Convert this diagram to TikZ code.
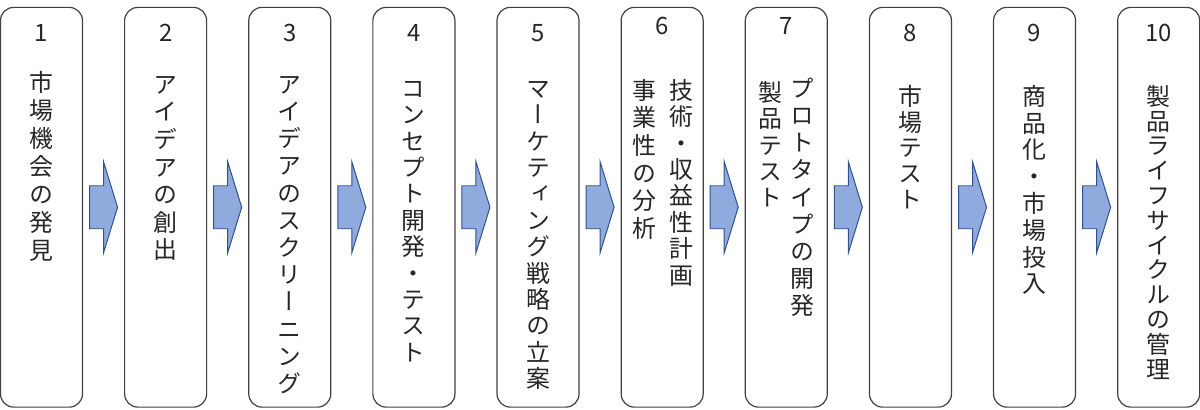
\documentclass[tikz,border=0pt]{standalone}
\usepackage{fontspec}
\usepackage{tikz}
\usetikzlibrary{positioning}

\newfontfamily\jpfont[RawFeature=+vert]{Noto Sans CJK JP}
\newfontfamily\numfont{Noto Sans CJK JP}
\definecolor{arrowfill}{HTML}{8FAADC}
\definecolor{arrowline}{HTML}{2F528F}
\definecolor{boxline}{HTML}{404040}

% vertical text: one character per line
\def\tatestop{\tatestop}
\def\tatestep#1{\ifx\tatestop#1\else\hbox to 1em{\vrule height .88em depth .12em width 0pt\hss#1\hss}\expandafter\tatestep\fi}
\newcommand\tate[2][0.67cm]{\vbox{\baselineskip=#1\lineskiplimit=-10cm\tatestep#2\tatestop}}

\begin{document}
\begin{tikzpicture}[x=0.025cm, y=-0.025cm,
    stage/.style={draw=boxline, line width=0.85pt, rounded corners=0.33cm, minimum width=2.05cm, minimum height=9.99cm, inner sep=0pt, outer sep=0pt},
    num/.style={font=\numfont\fontsize{17pt}{20pt}\selectfont, text=black!85, inner sep=0pt},
    tatetext/.style={font=\jpfont\fontsize{17pt}{20pt}\selectfont, text=black!85, inner sep=0pt, anchor=north},
    flow/.style={fill=arrowfill, draw=arrowline, line width=0.7pt, line join=miter},
    node distance=1.0525cm]
    \useasboundingbox (0,0) rectangle (1200,409);

    % the ten process boxes
    \node[stage] (s1) at (41.5,207.25) {};
    \node[stage, right=of s1] (s2) {};
    \node[stage, right=of s2] (s3) {};
    \node[stage, right=of s3] (s4) {};
    \node[stage, right=of s4] (s5) {};
    \node[stage, right=of s5] (s6) {};
    \node[stage, right=of s6] (s7) {};
    \node[stage, right=of s7] (s8) {};
    \node[stage, right=of s8] (s9) {};
    \node[stage, right=of s9] (s10) {};

    % step numbers
    \node[num] (n1) at ([yshift=-0.6375cm]s1.north) {1};
    \node[num] (n2) at ([yshift=-0.6375cm]s2.north) {2};
    \node[num] (n3) at ([yshift=-0.6375cm]s3.north) {3};
    \node[num] (n4) at ([yshift=-0.6375cm]s4.north) {4};
    \node[num] (n5) at ([yshift=-0.6375cm]s5.north) {5};
    \node[num] (n6) at ([yshift=-0.4625cm]s6.north) {6};
    \node[num] (n7) at ([yshift=-0.4625cm]s7.north) {7};
    \node[num] (n8) at ([yshift=-0.6375cm]s8.north) {8};
    \node[num] (n9) at ([yshift=-0.6375cm]s9.north) {9};
    \node[num] (n10) at ([yshift=-0.6375cm]s10.north) {10};

    % vertical titles
    \node[tatetext] (t1) at ([yshift=-1.5625cm]s1.north) {\tate[0.70cm]{市場機会の発見}};
    \node[tatetext] (t2) at ([yshift=-1.6125cm]s2.north) {\tate[0.69cm]{アイデアの創出}};
    \node[tatetext] (t3) at ([yshift=-1.6125cm]s3.north) {\tate[0.68cm]{アイデアのスクリーニング}};
    \node[tatetext] (t4) at ([yshift=-1.7125cm]s4.north) {\tate[0.66cm]{コンセプト開発・テスト}};
    \node[tatetext] (t5) at ([yshift=-1.7125cm]s5.north) {\tate[0.66cm]{マーケティング戦略の立案}};
    \node[tatetext] (t6a) at ([xshift=0.475cm,yshift=-1.7625cm]s6.north) {\tate[0.66cm]{技術・収益性計画}};
    \node[tatetext] (t6b) at ([xshift=-0.45cm,yshift=-1.7625cm]s6.north) {\tate[0.69cm]{事業性の分析}};
    \node[tatetext] (t7a) at ([xshift=0.41cm,yshift=-1.7125cm]s7.north) {\tate[0.68cm]{プロトタイプの開発}};
    \node[tatetext] (t7b) at ([xshift=-0.39cm,yshift=-1.8125cm]s7.north) {\tate[0.66cm]{製品テスト}};
    \node[tatetext] (t8) at ([yshift=-1.9125cm]s8.north) {\tate[0.645cm]{市場テスト}};
    \node[tatetext] (t9) at ([yshift=-1.9125cm]s9.north) {\tate[0.67cm]{商品化・市場投入}};
    \node[tatetext] (t10) at ([yshift=-1.9125cm]s10.north) {\tate[0.62cm]{製品ライフサイクルの管理}};

    % block arrows between the boxes
    \foreach \i [count=\j from 2] in {1,...,9} {
        \path (s\i) -- coordinate[midway] (m\i) (s\j);
        \draw[flow] (m\i) ++(-14,-21.5) -- ++(14,0) -- ++(0,-24) -- ++(14,45.5) -- ++(-14,45.5) -- ++(0,-24) -- ++(-14,0) -- cycle;
    }
\end{tikzpicture}
\end{document}
